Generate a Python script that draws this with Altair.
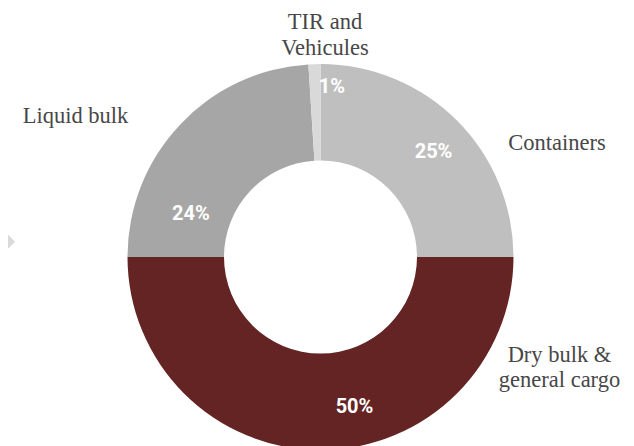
import altair as alt
import pandas as pd

# ---- data ----
categories = ["Containers", "Dry bulk & general cargo", "Liquid bulk", "TIR and Vehicules"]
shares = [25, 50, 24, 1]
name_labels = ["Containers", "Dry bulk &\ngeneral cargo", "Liquid bulk", "TIR and\nVehicules"]
colors = ["#bfbfbf", "#632423", "#a6a6a6", "#d9d9d9"]

# ---- layout / style (not data) ----
CX, CY = 312.5, 249          # donut centre in chart pixels
R_OUT, R_IN = 193, 96.5
PCT_R, NAME_R = 145, 220
pct_offsets = {
    "Containers": (10.5, -2),
    "Dry bulk & general cargo": (34, 4.5),
    "Liquid bulk": (-24, 56),
    "TIR and Vehicules": (16, -25.5),
}
name_offsets = {
    "Containers": (81, 42),
    "Dry bulk & general cargo": (239, -122.5),
    "Liquid bulk": (-84.6, 9.6),
    "TIR and Vehicules": (11.4, -15),
}

df = pd.DataFrame({"category": categories, "share": shares, "name": name_labels})
df["end"] = df["share"].cumsum()
df["start"] = df["end"] - df["share"]
df["mid"] = (df["start"] + df["end"]) / 2
df["pct"] = df["share"].astype(str) + "%"

theta_scale = alt.Scale(domain=[0, 100])
color_scale = alt.Scale(domain=categories, range=colors)

base = alt.Chart(df)

arcs = base.mark_arc(innerRadius=R_IN, outerRadius=R_OUT).encode(
    theta=alt.Theta("start:Q", scale=theta_scale),
    theta2="end:Q",
    color=alt.Color("category:N", scale=color_scale, legend=None),
    x=alt.value(CX),
    y=alt.value(CY),
)

layers = [arcs]
for cat in categories:
    dx, dy = pct_offsets[cat]
    layers.append(
        base.transform_filter(alt.datum.category == cat)
        .mark_text(radius=PCT_R, dx=dx, dy=dy, font="Roboto", fontWeight="bold",
                   fontSize=20, color="white", align="center", baseline="middle")
        .encode(theta=alt.Theta("mid:Q", scale=theta_scale), text="pct:N",
                x=alt.value(CX), y=alt.value(CY))
    )
    ndx, ndy = name_offsets[cat]
    layers.append(
        base.transform_filter(alt.datum.category == cat)
        .mark_text(radius=NAME_R, dx=ndx, dy=ndy, font="Liberation Serif",
                   fontSize=22.5, color="#474747", align="center", baseline="middle",
                   lineBreak="\n", lineHeight=25.5)
        .encode(theta=alt.Theta("mid:Q", scale=theta_scale), text="name:N",
                x=alt.value(CX), y=alt.value(CY))
    )

# decorative arrow tip at the left edge
arrow = alt.Chart(pd.DataFrame({"a": [0]})).mark_point(
    shape="diamond", filled=True, size=841, color="#d9d9d9", opacity=1
).encode(x=alt.value(-7.5), y=alt.value(233.7))
layers.append(arrow)

chart = alt.layer(*layers).properties(
    width=618, height=438, padding=0,
    autosize=alt.AutoSizeParams(type="none"),
).configure_view(stroke=None)

chart.save("out.html", embed_options={"renderer": "svg", "actions": False})
